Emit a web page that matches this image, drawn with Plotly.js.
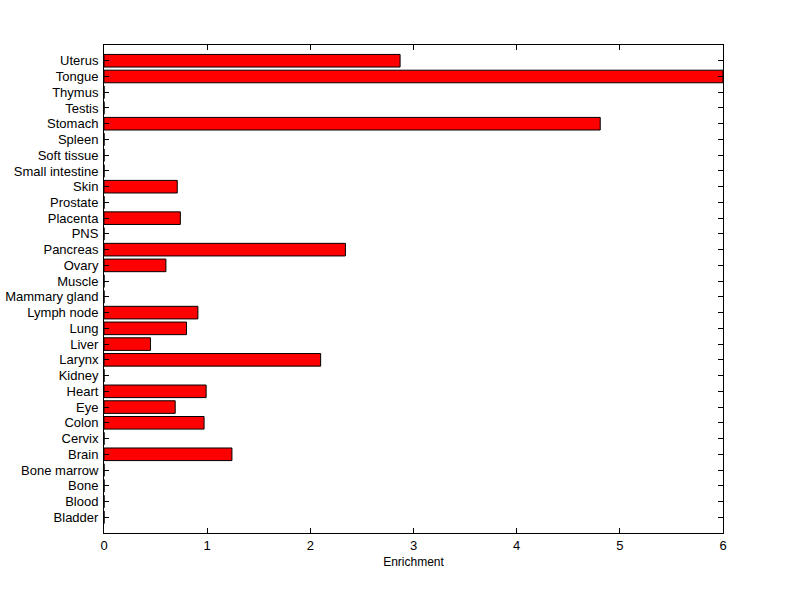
<!DOCTYPE html>
<html><head><meta charset="utf-8">
<script src="https://cdn.plot.ly/plotly-3.0.1.min.js"></script>
<style>html,body{margin:0;padding:0;background:#fff}</style>
</head><body><div id="chart" style="width:800px;height:599px"></div>
<script>
const categories = ["Bladder","Blood","Bone","Bone marrow","Brain","Cervix","Colon","Eye","Heart","Kidney","Larynx","Liver","Lung","Lymph node","Mammary gland","Muscle","Ovary","Pancreas","PNS","Placenta","Prostate","Skin","Small intestine","Soft tissue","Spleen","Stomach","Testis","Thymus","Tongue","Uterus"];
const enrichment = [0,0,0,0,1.24,0,0.97,0.69,0.99,0,2.10,0.45,0.80,0.91,0,0,0.60,2.34,0,0.74,0,0.71,0,0,0,4.81,0,0,6.0,2.87];
const xTicks = [0,1,2,3,4,5,6];

const idx = categories.map((_, i) => i);
Plotly.newPlot('chart', [{
  type: 'bar', orientation: 'h',
  x: enrichment, y: idx, width: 0.8,
  marker: {color: '#ff0000', line: {color: '#000000', width: 1}},
  hoverinfo: 'x'
}], {
  width: 800, height: 599,
  margin: {l: 104, r: 77, t: 45, b: 66},
  paper_bgcolor: '#ffffff', plot_bgcolor: '#ffffff',
  font: {family: 'Liberation Sans, Arial, sans-serif', size: 13, color: '#000'},
  showlegend: false,
  xaxis: {
    range: [0, 6], tickvals: xTicks, ticktext: xTicks.map(String),
    ticks: 'inside', ticklen: 5, tickcolor: '#000', mirror: 'ticks',
    showline: true, linecolor: '#000', linewidth: 1, showgrid: false, zeroline: false,
    title: {text: 'Enrichment', font: {size: 12}, standoff: 6}
  },
  yaxis: {
    range: [-1, 30], tickvals: idx, ticktext: categories,
    ticks: 'inside', ticklen: 5, tickcolor: '#000', mirror: 'ticks',
    showline: true, linecolor: '#000', linewidth: 1, showgrid: false, zeroline: false,
    ticklabelstandoff: 2
  }
}, {displayModeBar: false, staticPlot: true});
</script></body></html>
